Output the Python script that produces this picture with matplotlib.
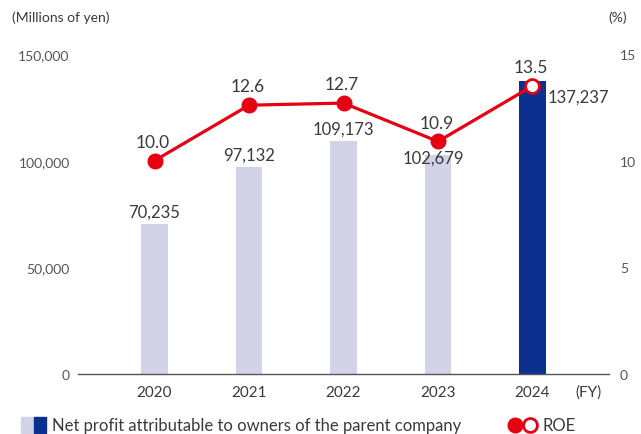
import numpy as np
import matplotlib.pyplot as plt
from matplotlib.patches import Rectangle
from matplotlib.lines import Line2D

plt.rcParams['font.family'] = ['Lato', 'DejaVu Sans']

years = ['2020', '2021', '2022', '2023', '2024']
net_profit = [70235, 97132, 109173, 102679, 137237]
roe = [10.0, 12.6, 12.7, 10.9, 13.5]
profit_labels = ['70,235', '97,132', '109,173', '102,679', '137,237']
roe_labels = ['10.0', '12.6', '12.7', '10.9', '13.5']

light = '#d3d3e8'
navy = '#0b3090'
red = '#e60012'
txt = '#3a3a3a'
tick_col = '#555555'

fig = plt.figure(figsize=(6.41, 4.35), dpi=100)
ax = fig.add_axes([78 / 641, 60 / 435, 531 / 641, 320 / 435])
ax2 = ax.twinx()

x = np.arange(len(years))
colors = [light] * (len(years) - 1) + [navy]
bars = ax.bar(x, net_profit, width=0.285, color=colors, zorder=2)

ax.set_xlim(-0.81, 4.81)
ax.set_ylim(0, 150000)
ax2.set_ylim(0, 15)
ax.set_yticks([0, 50000, 100000, 150000])
ax.set_yticklabels(['0', '50,000', '100,000', '150,000'])
ax2.set_yticks([0, 5, 10, 15])
ax.set_xticks(x)
ax.set_xticklabels(years)

for a in (ax, ax2):
    for s in a.spines.values():
        s.set_visible(False)
ax.spines['bottom'].set_visible(True)
ax.spines['bottom'].set_color('#555555')
ax.spines['bottom'].set_linewidth(1.0)
ax.tick_params(axis='y', length=0, pad=6, labelsize=10, labelcolor=tick_col)
ax2.tick_params(axis='y', length=0, pad=8, labelsize=10, labelcolor=tick_col)
ax.tick_params(axis='x', length=0, pad=8, labelsize=11, labelcolor=txt)

# bar value labels
offsets = [(0, 9), (0, 9), (0, 9), (-3, -2), (None, None)]
for i, (v, lab) in enumerate(zip(net_profit, profit_labels)):
    if i == len(years) - 1:
        ax.annotate(lab, (x[i] + 0.1425, v), xytext=(1.5, -11), textcoords='offset points',
                    ha='left', va='center', fontsize=12, color=txt, zorder=5)
    else:
        dx, dy = offsets[i]
        ax.annotate(lab, (x[i], v), xytext=(dx, dy), textcoords='offset points',
                    ha='center', va='center', fontsize=12, color=txt, zorder=5)

# ROE line
ax2.plot(x, roe, color=red, lw=2.3, zorder=3)
ax2.plot(x[:-1], roe[:-1], 'o', color=red, ms=10.5, zorder=4)
ax2.plot(x[-1:], roe[-1:], 'o', mfc='white', mec=red, mew=2, ms=10, zorder=4)
for i, (v, lab) in enumerate(zip(roe, roe_labels)):
    ax2.annotate(lab, (x[i], v), xytext=(-1, 13.5), textcoords='offset points',
                 ha='center', va='center', fontsize=12.5, color=txt, zorder=5)

# unit labels
fig.text(12 / 641, 1 - 18 / 435, '(Millions of yen)', fontsize=10, color=txt, va='center', ha='left')
fig.text(618 / 641, 1 - 18 / 435, '(%)', fontsize=10, color=txt, va='center', ha='center')
fig.text(588 / 641, 1 - 393 / 435, '(FY)', fontsize=11, color=txt, va='center', ha='center')

# legend
ly = 1 - 426 / 435
fig.patches.append(Rectangle((21 / 641, 1 - 434 / 435), 12 / 641, 16 / 435,
                             transform=fig.transFigure, color=light))
fig.patches.append(Rectangle((34 / 641, 1 - 434 / 435), 12 / 641, 16 / 435,
                             transform=fig.transFigure, color=navy))
fig.text(52 / 641, ly, 'Net profit attributable to owners of the parent company',
         fontsize=12, color=txt, va='center', ha='left')
fig.lines.append(Line2D([515 / 641], [ly], marker='o', color=red, ms=10.5,
                        transform=fig.transFigure))
fig.lines.append(Line2D([530 / 641], [ly], marker='o', mfc='white', mec=red, mew=2, ms=10,
                        transform=fig.transFigure))
fig.text(542 / 641, ly, 'ROE', fontsize=12, color=txt, va='center', ha='left')

fig.savefig('out.png', dpi=100)
